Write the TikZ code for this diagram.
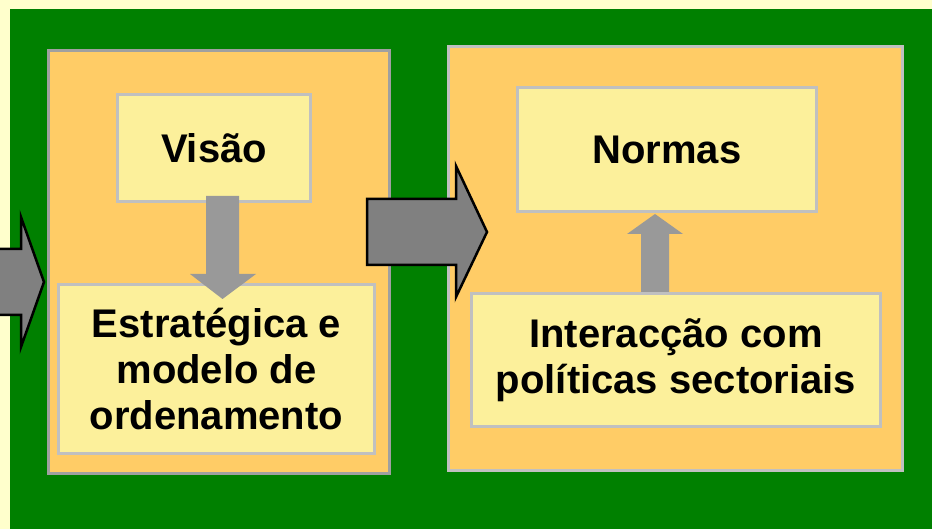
\documentclass[tikz,border=0pt]{standalone}
\usepackage{fontspec}
\setmainfont{Liberation Sans}
\usetikzlibrary{positioning}
\definecolor{paper}{HTML}{FFFFCC}
\definecolor{leaf}{HTML}{008000}
\definecolor{amber}{HTML}{FFCC66}
\definecolor{straw}{HTML}{FCF09B}
\definecolor{rim}{HTML}{C0C0C0}
\definecolor{darkrim}{HTML}{A0A0A0}
\begin{document}
\begin{tikzpicture}[x=1pt,y=-1pt,
  every node/.append style={inner sep=0pt}]
  \tikzstyle{panel} = [rectangle,fill=amber,draw=rim,line width=3pt]
  \tikzstyle{word} = [rectangle,fill=straw,draw=rim,line width=3pt,align=center,
    font=\fontsize{40}{46}\selectfont\bfseries,text=black]
  \tikzstyle{thin} = [fill=black!40,draw=none]
  \tikzstyle{thick} = [fill=black!50,draw=black,line width=2.5pt,line join=miter]
  \useasboundingbox (0,0) rectangle (932,529);
  \fill[paper] (0,0) rectangle (932,529);
  \fill[leaf] (10,9) rectangle (932,529);
  % panels
  \node (p_1) [panel,draw=darkrim,minimum width=341pt,minimum height=423pt] at (219,262) {};
  \node (p_2) [panel,minimum width=454pt,minimum height=424pt] at (675.5,258.5) {};
  % boxes
  \node (w_1) [word,minimum width=193pt,minimum height=107pt] at (214,148) {Visão};
  \node (w_2) [word,minimum width=316pt,minimum height=169pt] at (216.5,369) {Estratégica e\\modelo de\\ordenamento};
  \node (w_3) [word,minimum width=299pt,minimum height=124pt] at (667,149.5) {Normas};
  \node (w_4) [word,minimum width=409pt,minimum height=133pt] at (676,360) {Interacção com\\políticas sectoriais};
  % small arrows
  \coordinate (a_1) at (222.5,299);
  \coordinate (a_2) at (655,214);
  \fill[thin] (206,196) -- (239,196) -- (239,274) -- (256,274) -- (a_1)
    -- (190,274) -- (206,274) -- cycle;
  \fill[thin] (641,292) -- (669,292) -- (669,234) -- (683,234) -- (a_2)
    -- (627,234) -- (641,234) -- cycle;
  % big arrows
  \coordinate (b_1) at (487,232);
  \coordinate (b_2) at (44,282);
  \draw[thick] (367,199) -- (456,199) -- (456,166) -- (b_1) -- (456,297)
    -- (456,265) -- (367,265) -- cycle;
  \draw[thick] (-5,249) -- (21,249) -- (21,217) -- (b_2) -- (21,347)
    -- (21,315) -- (-5,315);
\end{tikzpicture}
\end{document}
